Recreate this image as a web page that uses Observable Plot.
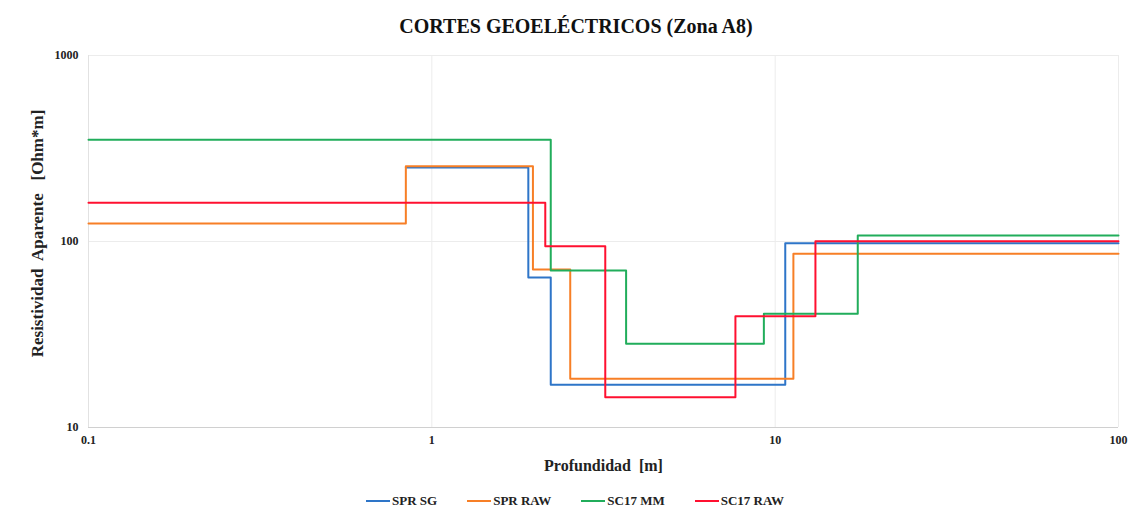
<!DOCTYPE html>
<html>
<head>
<meta charset="utf-8">
<script src="https://cdn.jsdelivr.net/npm/d3@7"></script>
<script src="https://cdn.jsdelivr.net/npm/@observablehq/plot@0.6"></script>
<style>
  body { margin: 0; background: #fff; font-family: "Liberation Serif", "Times New Roman", serif; }
  #wrap { position: relative; width: 1133px; height: 514px; }
  #title { position: absolute; left: 0; width: 1152px; top: 15px; text-align: center; font-weight: bold; font-size: 20px; color: #111; }
  #legend { position: absolute; left: 0; width: 1150px; top: 493px; display: flex; justify-content: center; gap: 30px; font-weight: bold; font-size: 13px; color: #222; }
  .item { display: flex; align-items: center; }
  .sw { width: 24px; height: 0; border-top: 2px solid; margin-right: 2px; }
  #chart { position: absolute; left: 0; top: 0; }
</style>
</head>
<body>
<div id="wrap">
  <div id="chart"></div>
  <div id="title">CORTES GEOELÉCTRICOS (Zona A8)</div>
  <div id="legend"></div>
</div>
<script>
const seriesNames = ["SPR SG", "SPR RAW", "SC17 MM", "SC17 RAW"];
const seriesColors = ["#2e75c8", "#f77f26", "#21ad5b", "#ff1030"];

// depth breakpoints [m] and apparent resistivity [Ohm*m] (step-after)
const sprSgDepth = [0.84, 1.91, 2.22, 10.7, 100];
const sprSgRes   = [250, 64, 17.0, 97.9, 97.9];
const sprRawDepth = [0.1, 0.84, 1.97, 2.53, 11.3, 100];
const sprRawRes   = [125, 254, 70.7, 18.3, 85.9, 85.9];
const sc17MmDepth = [0.1, 2.22, 3.68, 9.27, 17.4, 100];
const sc17MmRes   = [352, 69.8, 28.2, 40.9, 107.7, 107.7];
const sc17RawDepth = [0.1, 2.14, 3.20, 7.66, 13.1, 100];
const sc17RawRes   = [161.5, 94.3, 14.55, 39.7, 100.4, 100.4];

const xTicks = [0.1, 1, 10, 100];
const yTicks = [10, 100, 1000];

const depths = [sprSgDepth, sprRawDepth, sc17MmDepth, sc17RawDepth];
const res = [sprSgRes, sprRawRes, sc17MmRes, sc17RawRes];
const data = seriesNames.flatMap((s, i) => depths[i].map((d, j) => ({series: s, x: d, y: res[i][j]})));

const chart = Plot.plot({
  width: 1133,
  height: 480,
  marginTop: 55,
  marginBottom: 53,
  marginLeft: 88,
  marginRight: 15,
  style: {fontFamily: "Liberation Serif, serif", fontWeight: "bold", fontSize: "12px", color: "#222"},
  x: {type: "log", domain: [0.1, 100], ticks: xTicks, tickFormat: d => String(d), tickSize: 0, tickPadding: 8, label: null},
  y: {type: "log", domain: [10, 1000], ticks: yTicks, tickFormat: d => String(d), tickSize: 0, tickPadding: 10, label: null},
  color: {domain: seriesNames, range: seriesColors},
  marks: [
    Plot.gridX(xTicks, {stroke: "#ececec", strokeOpacity: 1}),
    Plot.gridY(yTicks, {stroke: "#ececec", strokeOpacity: 1}),
    Plot.ruleY([10], {stroke: "#d0d0d0", strokeWidth: 1}),
    Plot.ruleX([0.1], {stroke: "#e2e2e2", strokeWidth: 1}),
    Plot.axisX({ticks: xTicks, tickFormat: d => String(d), tickSize: 0, tickPadding: 8, label: null, fontSize: 12}),
    Plot.axisY({ticks: yTicks, tickFormat: d => String(d), tickSize: 0, tickPadding: 10, label: null, fontSize: 12}),
    Plot.line(data, {x: "x", y: "y", z: "series", stroke: "series", strokeWidth: 2, curve: "step-after"}),
    Plot.text(["Profundidad  [m]"], {frameAnchor: "bottom", dy: 43, fontSize: 16, fontWeight: "bold", fill: "#222"}),
    Plot.text(["Resistividad  Aparente   [Ohm*m]"], {frameAnchor: "left", textAnchor: "middle", dx: -51, dy: -8, rotate: -90, fontSize: 17, fontWeight: "bold", fill: "#222"})
  ]
});
document.getElementById("chart").appendChild(chart);

const legend = document.getElementById("legend");
seriesNames.forEach((s, i) => {
  const it = document.createElement("div");
  it.className = "item";
  const sw = document.createElement("div");
  sw.className = "sw";
  sw.style.borderTopColor = seriesColors[i];
  const t = document.createElement("span");
  t.textContent = s;
  it.appendChild(sw); it.appendChild(t);
  legend.appendChild(it);
});
</script>
</body>
</html>
